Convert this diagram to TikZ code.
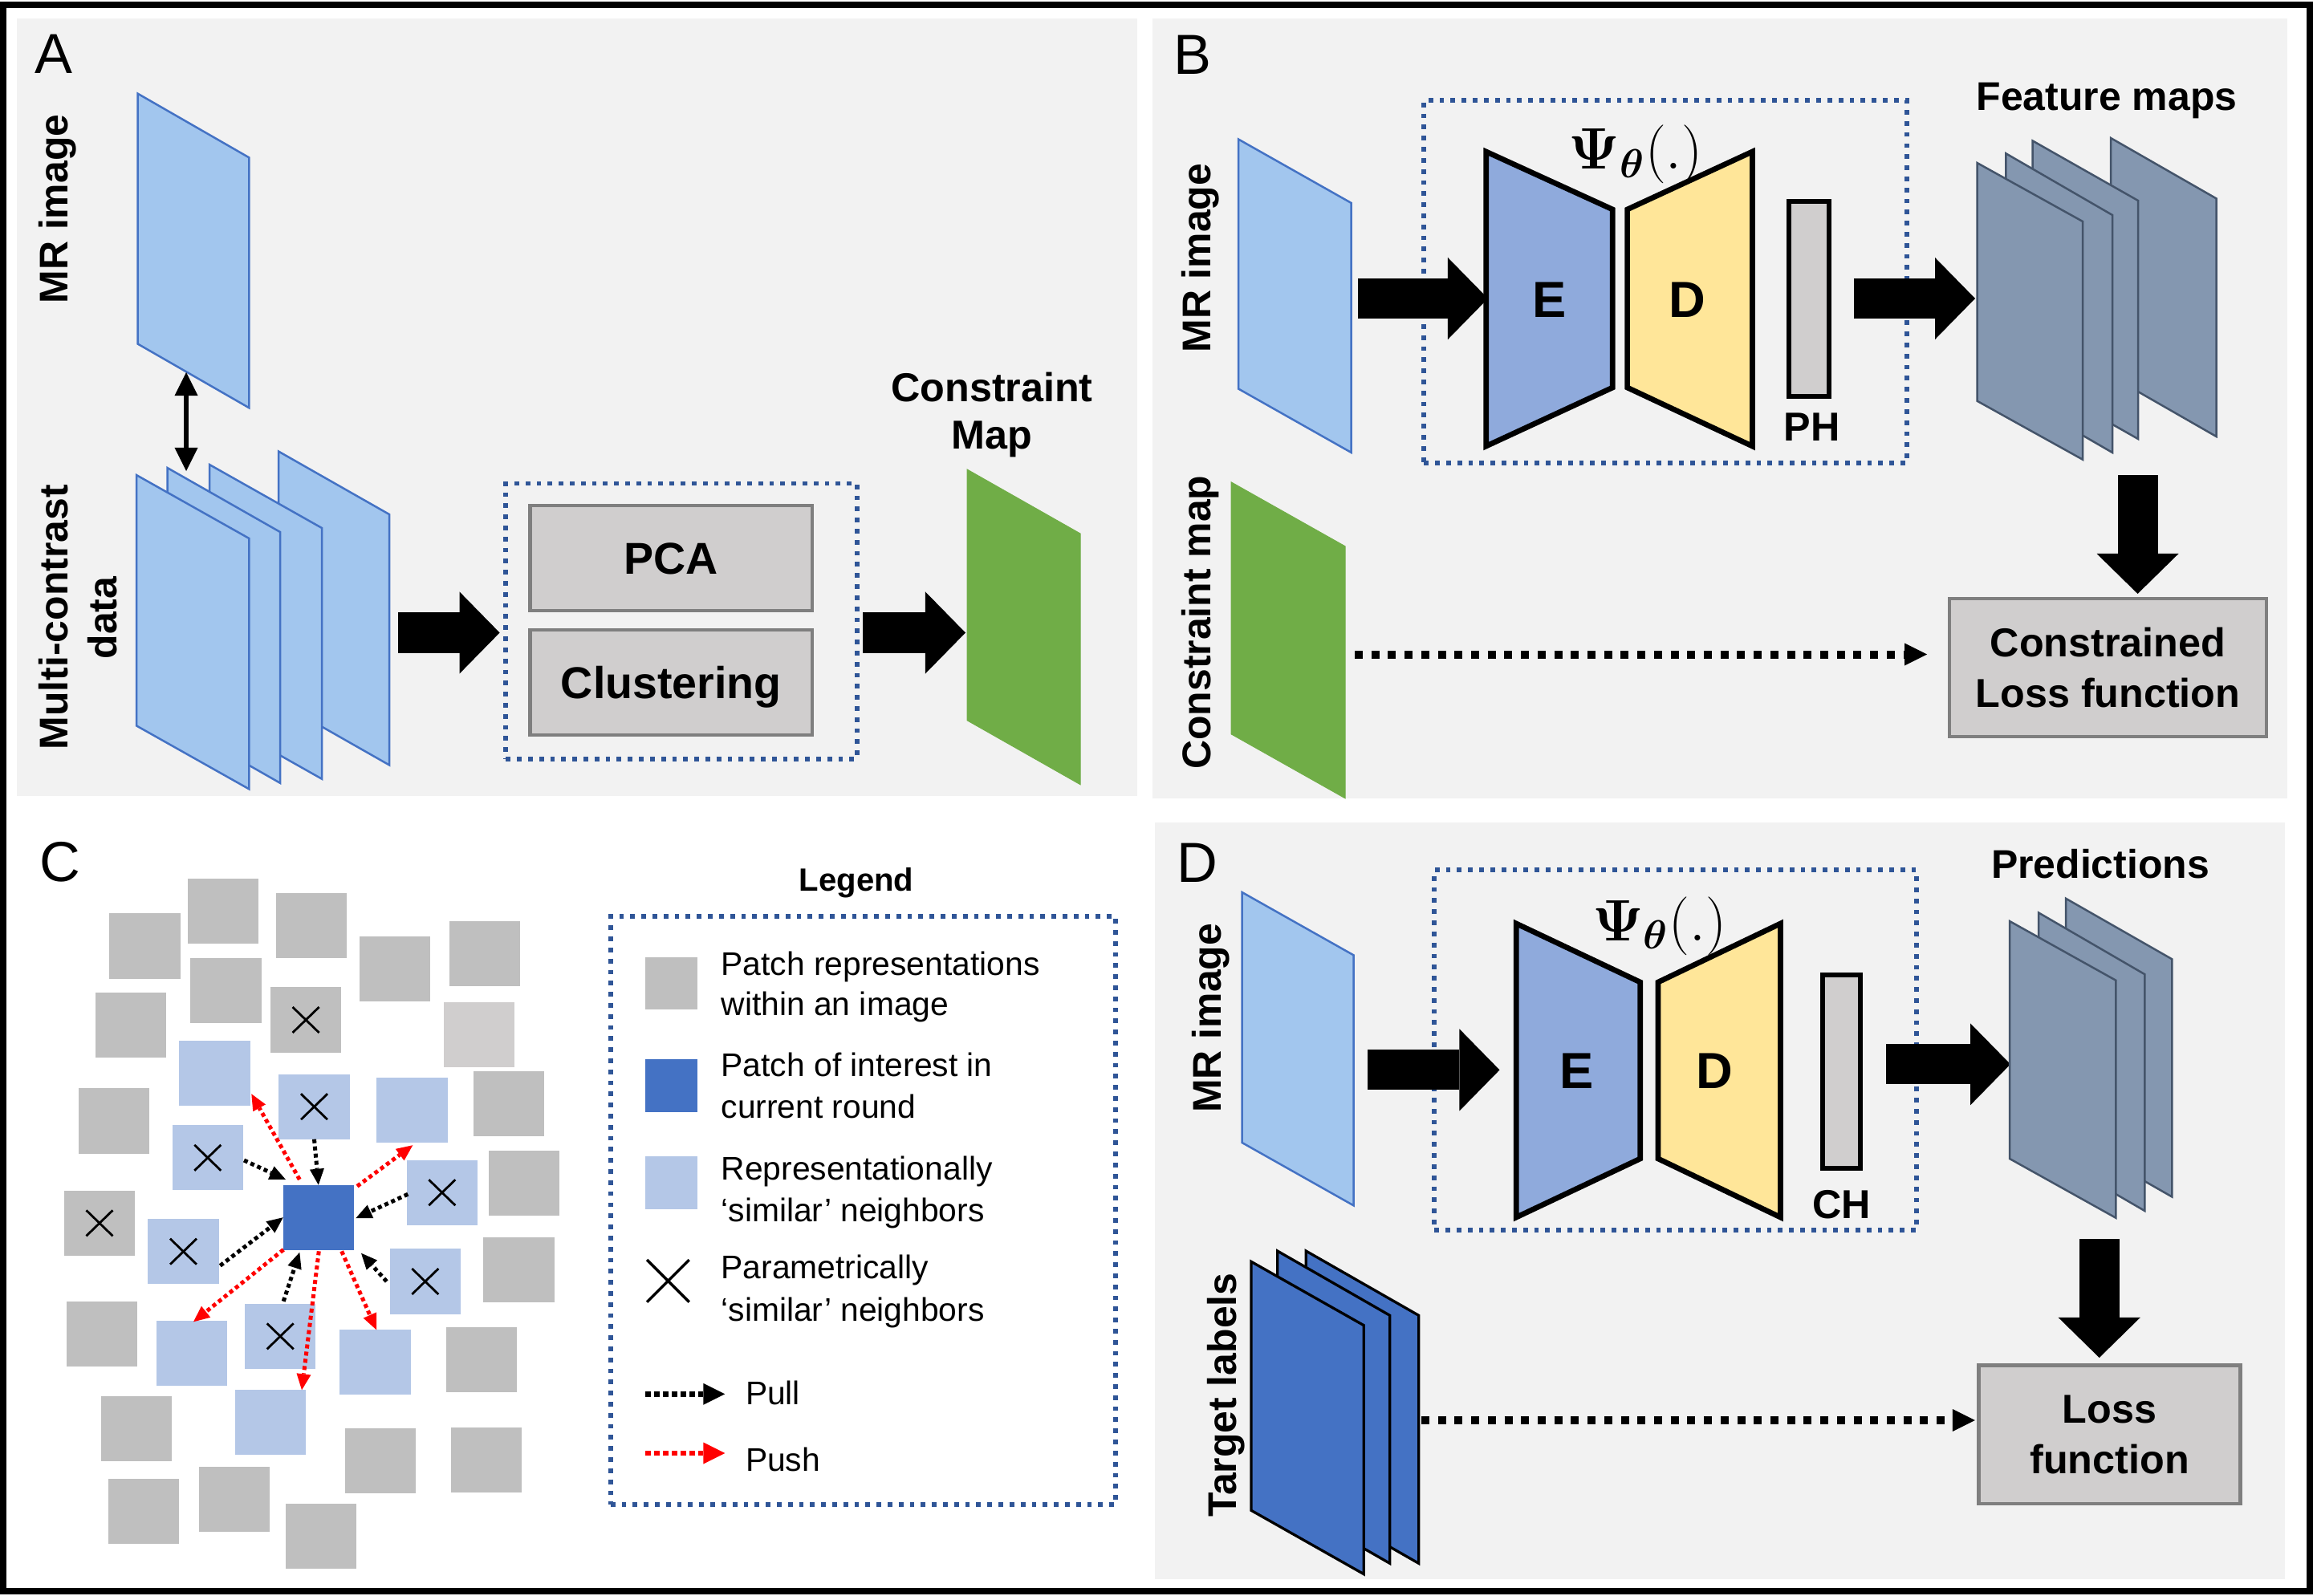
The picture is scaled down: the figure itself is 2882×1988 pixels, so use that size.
\documentclass[tikz,border=0pt]{standalone}
\usepackage[no-math]{fontspec}
\setmainfont{Liberation Sans}
\usepackage{bm}
\usetikzlibrary{arrows.meta,calc}
\definecolor{cBg}{HTML}{F2F2F2}
\definecolor{cLb}{HTML}{A2C6EE}
\definecolor{cLbE}{HTML}{4472C4}
\definecolor{cGreen}{HTML}{70AD47}
\definecolor{cFm}{HTML}{8497B0}
\definecolor{cFmE}{HTML}{44546A}
\definecolor{cEnc}{HTML}{8FAADC}
\definecolor{cDec}{HTML}{FFE699}
\definecolor{cBox}{HTML}{D0CECE}
\definecolor{cBoxE}{HTML}{7F7F7F}
\definecolor{cDot}{HTML}{2F5597}
\definecolor{cDark}{HTML}{4472C4}
\definecolor{cGray}{HTML}{BFBFBF}
\definecolor{cGrayL}{HTML}{D0CECE}
\definecolor{cPatchLb}{HTML}{B4C7E7}
\definecolor{cRed}{HTML}{FF0000}
\newcommand\fsz[2]{\fontsize{#1pt}{#2pt}\selectfont}
\newcommand\slab[6]{\draw[#1] (#2,#3) -- ++(#4,#5) -- ++(0,#6) -- ++(-#4,-#5) -- cycle;}
\newcommand\xmark[1]{\draw[xline] ($(#1)+(-16.5,-16)$) -- ($(#1)+(16.5,16)$) ($(#1)+(16.5,-16)$) -- ($(#1)+(-16.5,16)$);}
\begin{document}
\begin{tikzpicture}[x=0.01cm, y=-0.01cm,
 lbslab/.style={fill=cLb, draw=cLbE, line width=0.025cm},
 grslab/.style={fill=cGreen, draw=cGreen, line width=0.01cm},
 fmslab/.style={fill=cFm, draw=cFmE, line width=0.025cm},
 tlslab/.style={fill=cDark, draw=black, line width=0.033cm},
 dotbox/.style={draw=cDot, line width=0.058cm, dash pattern=on 0.058cm off 0.08cm, inner sep=0pt},
 blockarrow/.style={line width=0.5cm, -{Triangle[length=0.5cm,width=1.02cm,line width=0pt]}},
 dotarrow/.style={line width=0.1cm, dash pattern=on 0.1cm off 0.107cm, -{Triangle[length=0.28cm,width=0.28cm,line width=0pt]}},
 dblarrow/.style={line width=0.055cm, {Triangle[length=0.29cm,width=0.29cm,line width=0pt]}-{Triangle[length=0.29cm,width=0.29cm,line width=0pt]}},
 graybox/.style={draw=cBoxE, fill=cBox, line width=0.045cm, inner sep=0pt},
 barbox/.style={draw=black, fill=cBox, line width=0.06cm, inner sep=0pt},
 encoder/.style={draw=black, fill=cEnc, line width=0.067cm, line join=miter},
 decoder/.style={draw=black, fill=cDec, line width=0.067cm, line join=miter},
 lab/.style={inner sep=0pt, font=\bfseries\fsz{14.2}{17}},
 rotlab/.style={lab, rotate=90, anchor=base},
 edlab/.style={inner sep=0pt, anchor=base, font=\bfseries\fsz{18}{21}},
 psilabel/.style={inner sep=0pt, font=\fsz{19.5}{23}},
 panelletter/.style={inner sep=0pt, anchor=base west, font=\fsz{20}{24}},
 cpatch/.style={minimum width=0.88cm, minimum height=0.81cm, inner sep=0pt, outer sep=0pt},
 graypatch/.style={cpatch, fill=cGray},
 bluepatch/.style={cpatch, fill=cPatchLb},
 xline/.style={line width=0.028cm, black},
 pullarr/.style={line width=0.05cm, dash pattern=on 0.05cm off 0.04cm, -{Triangle[length=0.2cm,width=0.18cm,line width=0pt]}},
 pusharr/.style={pullarr, draw=cRed},
 legarrow/.style={line width=0.067cm, dash pattern=on 0.067cm off 0.043cm, -{Triangle[length=0.27cm,width=0.27cm,line width=0pt]}},
 legtext/.style={inner sep=0pt, anchor=base west, font=\fsz{11.6}{14}},
]
\useasboundingbox (0,0) rectangle (2882,1988);
% backgrounds and frame
\fill[cBg] (20.7,22.7) rectangle (1417,992);
\fill[cBg] (1436,22.7) rectangle (2850,995);
\fill[cBg] (1439,1025) rectangle (2847,1968);
\draw[line width=0.08cm] (4,6) rectangle (2878,1983);
% panel letters
\node[panelletter] (lA) at (43,92) {A};
\node[panelletter] (lB) at (1462,92.5) {B};
\node[panelletter] (lC) at (49,1098) {C};
\node[panelletter] (lD) at (1466,1099) {D};

% ================= Panel A
\slab{lbslab}{171.7}{116.7}{138.7}{79.7}{311.9}
\node[rotlab] (mrA) at (84,260.5) {MR image};
\slab{lbslab}{347}{562.5}{138}{78.5}{312.4}
\slab{lbslab}{261}{579}{140}{79}{312.7}
\slab{lbslab}{208.5}{583}{140.5}{80}{312.8}
\slab{lbslab}{170}{592}{140.4}{79}{312.4}
\node[rotlab] (mcA1) at (84.5,769.3) {Multi-contrast};
\node[rotlab] (mcA2) at (145,770) {data};
\coordinate (dA1) at (232,464);
\coordinate (dA2) at (232,587);
\draw[dblarrow] (dA1) -- (dA2);
\coordinate (a1s) at (496,788.5);
\coordinate (a1e) at (622.6,788.5);
\draw[blockarrow] (a1s) -- (a1e);
\node[dotbox, minimum width=4.37cm, minimum height=3.43cm] (boxA) at (849,774) {};
\node[graybox, minimum width=3.51cm, minimum height=1.305cm, font=\bfseries\fsz{15.8}{19}, text height=11.3pt, text depth=0pt] (pca) at (836.25,695.5) {PCA};
\node[graybox, minimum width=3.51cm, minimum height=1.305cm, font=\bfseries\fsz{15.8}{19}, text height=11.3pt, text depth=0pt] (clu) at (836.25,850.5) {Clustering};
\coordinate (a2s) at (1075.4,788.5);
\coordinate (a2e) at (1203,788.5);
\draw[blockarrow] (a2s) -- (a2e);
\slab{grslab}{1205}{585}{141}{80}{312.7}
\node[lab, anchor=base, font=\bfseries\fsz{14.3}{17}] (cm1) at (1236,500.6) {Constraint};
\node[lab, anchor=base, font=\bfseries\fsz{14.3}{17}] (cm2) at (1236,559) {Map};

% ================= Panel B
\slab{lbslab}{1543}{173.5}{140.7}{79.5}{311}
\node[rotlab] (mrB) at (1508,321.6) {MR image};
\node[dotbox, minimum width=6.01cm, minimum height=4.515cm] (boxB) at (2075,351.25) {};
\coordinate (b1s) at (1692,372);
\coordinate (b1e) at (1854,372);
\draw[blockarrow] (b1s) -- (b1e);
\draw[encoder] (1851.7,189) -- (2009.3,261) -- (2009.3,483) -- (1851.7,556) -- cycle;
\draw[decoder] (2027.6,261) -- (2183.4,189) -- (2183.4,556) -- (2027.6,483) -- cycle;
\node[edlab] (eB) at (1930.5,395) {E};
\node[edlab] (dB) at (2102,395) {D};
\node[psilabel] (psiB) at (2038,192) {$\bm{\Psi}_{\bm{\theta}}(.)$};
\node[barbox, minimum width=0.5cm, minimum height=2.424cm] (phbar) at (2254,372.5) {};
\node[lab, anchor=base, font=\bfseries\fsz{14.3}{17}] (phl) at (2257.5,549) {PH};
\coordinate (b2s) at (2310,372);
\coordinate (b2e) at (2461,372);
\draw[blockarrow] (b2s) -- (b2e);
\slab{fmslab}{2630}{172}{131.5}{75.4}{296.6}
\slab{fmslab}{2532.5}{175.4}{131.5}{74.6}{297}
\slab{fmslab}{2499.4}{191.3}{132.6}{76.7}{296}
\slab{fmslab}{2463.5}{203}{131.5}{73}{296.7}
\node[lab, anchor=base] (fmB) at (2625,137.7) {Feature maps};
\coordinate (b3s) at (2663.5,592);
\coordinate (b3e) at (2663.5,740);
\draw[blockarrow] (b3s) -- (b3e);
\node[graybox, minimum width=3.95cm, minimum height=1.72cm, align=center, font=\bfseries\fsz{14.3}{17.8}] (lossB) at (2626.5,832) {Constrained\\Loss function};
\slab{grslab}{1534}{600.8}{142}{80}{314}
\node[rotlab] (cmB) at (1508,775.6) {Constraint map};
\coordinate (b4s) at (1688,815.5);
\coordinate (b4e) at (2401,815.5);
\draw[dotarrow] (b4s) -- (b4e);

% ================= Panel D
\slab{lbslab}{1547.6}{1112}{138.9}{78.3}{312}
\node[rotlab] (mrD) at (1521.7,1268.8) {MR image};
\node[dotbox, minimum width=6cm, minimum height=4.485cm] (boxD) at (2087.5,1308.75) {};
\coordinate (d1s) at (1704,1333.4);
\coordinate (d1e) at (1868.5,1333.4);
\draw[blockarrow] (d1s) -- (d1e);
\draw[encoder] (1889.3,1151) -- (2043.7,1224) -- (2043.7,1444) -- (1889.3,1517) -- cycle;
\draw[decoder] (2066,1224) -- (2218.4,1151) -- (2218.4,1517) -- (2066,1444) -- cycle;
\node[edlab] (eD) at (1965,1356) {E};
\node[edlab] (dD) at (2136.6,1356) {D};
\node[psilabel] (psiD) at (2067.7,1153.8) {$\bm{\Psi}_{\bm{\theta}}(.)$};
\node[barbox, minimum width=0.47cm, minimum height=2.407cm] (chbar) at (2294.3,1335.3) {};
\node[lab, anchor=base, font=\bfseries\fsz{14.3}{17}] (chl) at (2294.5,1518) {CH};
\coordinate (d2s) at (2350.4,1326.3);
\coordinate (d2e) at (2505,1326.3);
\draw[blockarrow] (d2s) -- (d2e);
\slab{fmslab}{2574}{1119.7}{132.3}{75.6}{296.2}
\slab{fmslab}{2540}{1137.4}{132.3}{76.8}{294.8}
\slab{fmslab}{2504}{1148}{132.4}{73.8}{296}
\node[lab, anchor=base] (prD) at (2617,1094.5) {Predictions};
\coordinate (d3s) at (2615.7,1543.8);
\coordinate (d3e) at (2615.7,1692);
\draw[blockarrow] (d3s) -- (d3e);
\node[graybox, minimum width=3.26cm, minimum height=1.72cm, align=center, font=\bfseries\fsz{14.3}{17.8}] (lossD) at (2628.6,1787.7) {Loss\\function};
\slab{tlslab}{1627.3}{1559}{140.4}{80.3}{309}
\slab{tlslab}{1591.7}{1559}{140}{80.3}{309}
\slab{tlslab}{1559}{1572.3}{140.3}{79.4}{310}
\node[rotlab] (tlD) at (1540,1738.6) {Target labels};
\coordinate (d4s) at (1771,1770);
\coordinate (d4e) at (2460.8,1770);
\draw[dotarrow] (d4s) -- (d4e);

% ================= Panel C
\node[graypatch] (g1) at (278.3,1135.5) {};
\node[graypatch] (g2) at (180.5,1179) {};
\node[graypatch] (g3) at (388,1153.7) {};
\node[graypatch] (g4) at (281.5,1234.7) {};
\node[graypatch] (g5) at (492.2,1207.9) {};
\node[graypatch] (g6) at (604.3,1188.7) {};
\node[graypatch] (g7) at (163,1277.9) {};
\node[graypatch] (g8) at (381.1,1271) {};
\node[graypatch, fill=cGrayL] (g9) at (597,1289.9) {};
\node[graypatch] (g10) at (142.3,1397) {};
\node[graypatch] (g11) at (633.7,1375.5) {};
\node[graypatch] (g12) at (653.4,1474.2) {};
\node[graypatch] (g13) at (124,1524.3) {};
\node[graypatch] (g14) at (646.5,1582.9) {};
\node[graypatch] (g15) at (127.2,1662.3) {};
\node[graypatch] (g16) at (599.7,1694.4) {};
\node[graypatch] (g17) at (169.9,1780.4) {};
\node[graypatch] (g18) at (474.3,1820.1) {};
\node[graypatch] (g19) at (605.7,1819.5) {};
\node[graypatch] (g20) at (179.1,1883.1) {};
\node[graypatch] (g21) at (292,1868) {};
\node[graypatch] (g22) at (400.4,1914.9) {};
\node[bluepatch] (cpa) at (267.5,1337.8) {};
\node[bluepatch] (cpb) at (391.5,1379.2) {};
\node[bluepatch] (cpc) at (513.5,1383.7) {};
\node[bluepatch] (cpd) at (258.8,1442.8) {};
\node[bluepatch] (cpe) at (550.8,1486.2) {};
\node[bluepatch] (cpf) at (228.5,1559.7) {};
\node[bluepatch] (cpg) at (529.8,1597) {};
\node[bluepatch] (cph) at (239.2,1686.2) {};
\node[bluepatch] (cpi) at (349.2,1665.3) {};
\node[bluepatch] (cpj) at (467.5,1697.8) {};
\node[bluepatch] (cpk) at (336.7,1772.8) {};
\node[cpatch, fill=cDark] (ctr) at (396.8,1517.2) {};
\xmark{g8}
\xmark{g13}
\xmark{cpb}
\xmark{cpd}
\xmark{cpe}
\xmark{cpf}
\xmark{cpg}
\xmark{cpi}
% pull
\draw[pullarr] (cpb.south) -- (ctr.north);
\draw[pullarr] ($(cpd.east)+(1.2,3.2)$) -- ($(ctr.north west)+(3.2,-6.7)$);
\draw[pullarr] ($(cpf.east)+(1.8,17.6)$) -- (ctr.west);
\draw[pullarr] ($(cpi.north)+(4,-3)$) -- ($(ctr.south)+(-23.5,3)$);
\draw[pullarr] ($(cpg.west)+(-4,0)$) -- ($(ctr.south east)+(9.2,4)$);
\draw[pullarr] ($(cpe.west)+(1.5,2)$) -- ($(ctr.east)+(2.5,1)$);
% push
\draw[pusharr] ($(ctr.north)+(-23.5,-6.7)$) -- ($(cpa.south east)+(1.8,-15)$);
\draw[pusharr] ($(ctr.north east)+(4.2,1.6)$) -- ($(cpc.south)+(0.8,3)$);
\draw[pusharr] ($(ctr.south west)+(0.5,-0.4)$) -- ($(cph.north)+(1.8,1.6)$);
\draw[pusharr] ($(ctr.south)+(0.5,1.6)$) -- ($(cpk.north)+(39.3,0)$);
\draw[pusharr] ($(ctr.south)+(28.9,1.6)$) -- ($(cpj.north)+(1.5,0)$);

% legend
\node[inner sep=0pt, anchor=base, font=\bfseries\fsz{11.4}{14}] (legt) at (1067,1110.7) {Legend};
\node[dotbox, minimum width=6.29cm, minimum height=7.32cm] (legbox) at (1075.5,1508.5) {};
\node[inner sep=0pt, fill=cGray, minimum width=0.652cm, minimum height=0.649cm] (lgs1) at (836.2,1225.9) {};
\node[inner sep=0pt, fill=cDark, minimum width=0.652cm, minimum height=0.656cm] (lgs2) at (836.2,1352.8) {};
\node[inner sep=0pt, fill=cPatchLb, minimum width=0.652cm, minimum height=0.656cm] (lgs3) at (836.2,1473.8) {};
\coordinate (lgx) at (832.4,1596.3);
\draw[line width=0.035cm] ($(lgx)+(-26.3,-26.3)$) -- ($(lgx)+(26.3,26.3)$) ($(lgx)+(26.3,-26.3)$) -- ($(lgx)+(-26.3,26.3)$);
\node[legtext] (lt1a) at (898,1215) {Patch representations};
\node[legtext] (lt1b) at (898,1265.5) {within an image};
\node[legtext] (lt2a) at (898,1341) {Patch of interest in};
\node[legtext] (lt2b) at (898,1393) {current round};
\node[legtext] (lt3a) at (898,1470) {Representationally};
\node[legtext] (lt3b) at (898,1522) {‘similar’ neighbors};
\node[legtext] (lt4a) at (898,1593) {Parametrically};
\node[legtext] (lt4b) at (898,1646) {‘similar’ neighbors};
\coordinate (lgp1) at (804,1737.3);
\coordinate (lgp2) at (903.3,1737.3);
\draw[legarrow] (lgp1) -- (lgp2);
\coordinate (lgq1) at (804,1811);
\coordinate (lgq2) at (903.3,1811);
\draw[legarrow, draw=cRed] (lgq1) -- (lgq2);
\node[legtext] (ltpull) at (928.3,1750.7) {Pull};
\node[legtext] (ltpush) at (928.3,1833) {Push};
\end{tikzpicture}
\end{document}
